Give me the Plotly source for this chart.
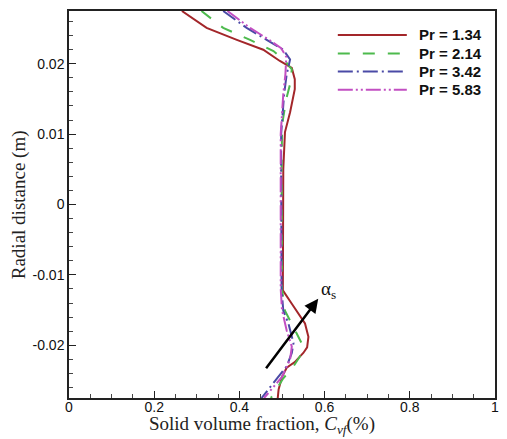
import plotly.graph_objects as go

# ---- data ----
series_names = ["Pr = 1.34", "Pr = 2.14", "Pr = 3.42", "Pr = 5.83"]

y_pr134 = [0.0275, 0.0251, 0.0234, 0.0220, 0.0204, 0.0194, 0.0178, 0.0164, 0.0131, 0.0103,
           0.0050, 0.0, -0.0050, -0.0100, -0.0122, -0.0141, -0.0169, -0.0188, -0.0203,
           -0.0211, -0.0224, -0.0232, -0.0245, -0.0263, -0.0275]
x_pr134 = [0.265, 0.323, 0.394, 0.456, 0.495, 0.523, 0.530, 0.530, 0.519, 0.507,
           0.503, 0.503, 0.503, 0.502, 0.502, 0.523, 0.554, 0.562, 0.559,
           0.550, 0.530, 0.511, 0.500, 0.492, 0.490]

y_pr214 = [0.0275, 0.0251, 0.0234, 0.0218, 0.0204, 0.0192, 0.0171, 0.0150, 0.0120, 0.0100,
           0.0050, 0.0, -0.0050, -0.0100, -0.0120, -0.0151, -0.0183, -0.0197, -0.0216,
           -0.0230, -0.0247, -0.0275]
x_pr214 = [0.311, 0.362, 0.425, 0.480, 0.507, 0.523, 0.519, 0.510, 0.502, 0.500,
           0.499, 0.499, 0.499, 0.499, 0.500, 0.507, 0.534, 0.546, 0.542,
           0.527, 0.503, 0.474]

y_pr342 = [0.0275, 0.0251, 0.0234, 0.0220, 0.0206, 0.0185, 0.0157, 0.0120, 0.0100,
           0.0050, 0.0, -0.0050, -0.0100, -0.0120, -0.0151, -0.0169, -0.0197, -0.0211,
           -0.0230, -0.0249, -0.0275]
x_pr342 = [0.362, 0.417, 0.464, 0.503, 0.519, 0.511, 0.505, 0.500, 0.498,
           0.498, 0.498, 0.498, 0.498, 0.499, 0.503, 0.515, 0.527, 0.523,
           0.511, 0.487, 0.452]

y_pr583 = [0.0275, 0.0251, 0.0234, 0.0222, 0.0210, 0.0185, 0.0157, 0.0120, 0.0100,
           0.0050, 0.0, -0.0050, -0.0100, -0.0120, -0.0150, -0.0179, -0.0202, -0.0220,
           -0.0245, -0.0275]
x_pr583 = [0.372, 0.425, 0.470, 0.498, 0.510, 0.508, 0.503, 0.499, 0.497,
           0.497, 0.497, 0.497, 0.497, 0.497, 0.500, 0.511, 0.523, 0.519,
           0.500, 0.458]

x_tick_vals = [0, 0.2, 0.4, 0.6, 0.8, 1]
x_tick_text = ["0", "0.2", "0.4", "0.6", "0.8", "1"]
y_tick_vals = [-0.02, -0.01, 0, 0.01, 0.02]
y_tick_text = ["-0.02", "-0.01", "0", "0.01", "0.02"]

arrow_tail = (0.460, -0.0235)
arrow_head = (0.585, -0.0134)
alpha_pos = (0.608, -0.0121)

# ---- styles ----
colors = ["#A3262A", "#4DBA4D", "#4A4AA6", "#C24FC2"]
dashes = ["solid", "12px,13px", "15px,4px,2px,4px", "15px,3px,2px,3px,2px,3px"]
xs = [x_pr134, x_pr214, x_pr342, x_pr583]
ys = [y_pr134, y_pr214, y_pr342, y_pr583]

fig = go.Figure()
for name, x, y, c, d in zip(series_names, xs, ys, colors, dashes):
    fig.add_trace(go.Scatter(x=x, y=y, mode="lines", name=name,
                             line=dict(color=c, width=2, dash=d), showlegend=False))

# custom legend (no box), in paper coordinates
leg_rows = [0.938, 0.8905, 0.8436, 0.7967]
for name, c, d, ry in zip(series_names, colors, dashes, leg_rows):
    fig.add_shape(type="line", xref="paper", yref="paper", x0=0.631, x1=0.793, y0=ry, y1=ry,
                  line=dict(color=c, width=2, dash=d))
    fig.add_annotation(xref="paper", yref="paper", x=0.818, y=ry, text="<b>%s</b>" % name,
                       showarrow=False, xanchor="left", yanchor="middle",
                       font=dict(family="Liberation Sans", size=15, color="#111"))

# arrow
fig.add_annotation(x=arrow_head[0], y=arrow_head[1], ax=arrow_tail[0], ay=arrow_tail[1],
                   xref="x", yref="y", axref="x", ayref="y", text="", showarrow=True,
                   arrowhead=2, arrowsize=1.1, arrowwidth=2.5, arrowcolor="black", standoff=0)
fig.add_annotation(x=alpha_pos[0], y=alpha_pos[1], xref="x", yref="y",
                   text="\u03b1<sub>s</sub>", showarrow=False,
                   font=dict(family="Liberation Serif", size=19, color="#111"))

# axis titles
fig.add_annotation(xref="paper", yref="paper", x=0.453, y=-41 / 389, xanchor="center", yanchor="bottom",
                   text="Solid volume fraction, <i>C<sub>vf</sub></i>(%)", showarrow=False,
                   font=dict(family="Liberation Serif", size=19, color="#222"))
fig.add_annotation(xref="paper", yref="paper", x=-0.118, y=0.5, xanchor="center", yanchor="middle",
                   text="Radial distance (m)", textangle=-90, showarrow=False,
                   font=dict(family="Liberation Serif", size=19, color="#222"))

axis_common = dict(showgrid=False, zeroline=False, showline=True, linecolor="#222", linewidth=1.5,
                   mirror=True, ticks="inside", ticklen=7, tickwidth=1.3, tickcolor="#222",
                   tickfont=dict(family="Liberation Sans", size=14, color="#111"))

fig.update_xaxes(range=[0, 1], tickmode="array", tickvals=x_tick_vals, ticktext=x_tick_text,
                 ticklabelstandoff=-5,
                 minor=dict(tickmode="linear", tick0=0, dtick=0.05, ticks="inside", ticklen=4,
                            tickcolor="#444", tickwidth=1),
                 **axis_common)
fig.update_yaxes(range=[-0.0275, 0.0275], tickmode="array", tickvals=y_tick_vals, ticktext=y_tick_text,
                 minor=dict(tickmode="linear", tick0=0, dtick=0.002, ticks="inside", ticklen=4,
                            tickcolor="#444", tickwidth=1),
                 **axis_common)

# page body has an 8px margin: figure is sized so the plot area lands where the reference has it
fig.update_layout(width=499, height=431, margin=dict(l=61, r=12, t=1, b=41),
                  paper_bgcolor="white", plot_bgcolor="white", showlegend=False)

fig.write_html("out.html")
